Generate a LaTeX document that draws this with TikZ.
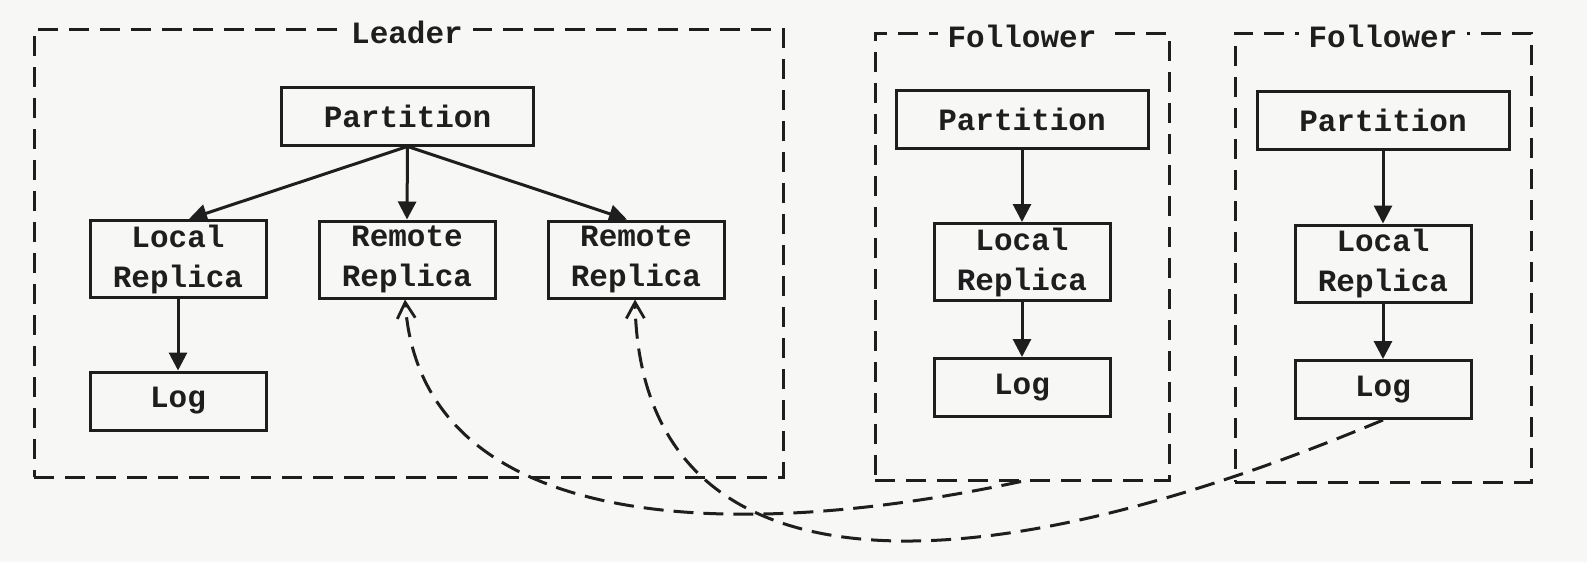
\documentclass[tikz,border=0pt]{standalone}
\usepackage{fontspec}
\setmonofont{Liberation Mono}
\usetikzlibrary{arrows.meta,calc}
\definecolor{bg}{RGB}{247,247,245}
\definecolor{ink}{RGB}{30,30,30}
\begin{document}
\begin{tikzpicture}[x=0.5pt,y=-0.5pt,
  every node/.style={font=\ttfamily\bfseries\fontsize{15.5}{20}\selectfont, text=ink},
  group/.style={draw=ink, line width=1.5pt, dash pattern=on 10pt off 5.5pt, inner sep=0pt},
  box/.style={draw=ink, line width=1.5pt, inner sep=0pt, align=center, minimum width=88pt},
  partbox/.style={box, minimum width=126pt, minimum height=29pt},
  repbox/.style={box, minimum height=38.5pt},
  logbox/.style={box, minimum height=29pt},
  title/.style={fill=bg, inner xsep=5pt, inner ysep=2pt},
  flow/.style={draw=ink, line width=1.5pt, -{Triangle[length=9pt,width=9pt]}},
  sync/.style={draw=ink, line width=1.5pt, dash pattern=on 10pt off 5pt, -{Straight Barb[length=8pt,width=9pt,line width=1.4pt]}}
]
\useasboundingbox (0,0) rectangle (1587,562);
\fill[bg] (0,0) rectangle (1587,562);

% group boxes
\node[group, minimum width=374.5pt, minimum height=224pt] (leaderbox) at (408.5,253) {};
\node[group, minimum width=147pt, minimum height=223.5pt] (f1box) at (1022,256.5) {};
\node[group, minimum width=148pt, minimum height=224.5pt] (f2box) at (1383,257.5) {};
\node[title] (leaderlbl) at (407,32) {Leader};
\node[title] (f1lbl) at (1022,36) {Follower};
\node[title] (f2lbl) at (1383,36) {Follower};

% leader
\node[partbox] (lpart) at (407.5,116) {Partition};
\node[repbox] (llocal) at (178,259) {Local\\Replica};
\node[repbox] (lrem1) at (407,259.5) {Remote\\Replica};
\node[repbox] (lrem2) at (636,259.5) {Remote\\Replica};
\node[logbox] (llog) at (178,401) {Log};

% follower 1
\node[partbox] (f1part) at (1022,119) {Partition};
\node[repbox] (f1local) at (1022,262) {Local\\Replica};
\node[logbox] (f1log) at (1022,387.5) {Log};

% follower 2
\node[partbox] (f2part) at (1383,120.5) {Partition};
\node[repbox] (f2local) at (1383,263.5) {Local\\Replica};
\node[logbox] (f2log) at (1383,389.5) {Log};

% solid arrows
\draw[flow] (lpart.south) -- ([xshift=5.5pt]llocal.north);
\draw[flow] (lpart.south) -- (lrem1.north);
\draw[flow] (lpart.south) -- ([xshift=-4.5pt]lrem2.north);
\draw[flow] (llocal) -- (llog);
\draw[flow] (f1part) -- (f1local);
\draw[flow] (f1local) -- (f1log);
\draw[flow] (f2part) -- (f2local);
\draw[flow] (f2local) -- (f2log);

% dashed replication curves
\draw[sync] ([xshift=-0.5pt]f1box.south) .. controls (700,550) and (420,520) .. ([xshift=-1pt]lrem1.south);
\draw[sync] (f2log.south) .. controls (930,610) and (640,580) .. ([xshift=-0.5pt]lrem2.south);
\end{tikzpicture}
\end{document}
